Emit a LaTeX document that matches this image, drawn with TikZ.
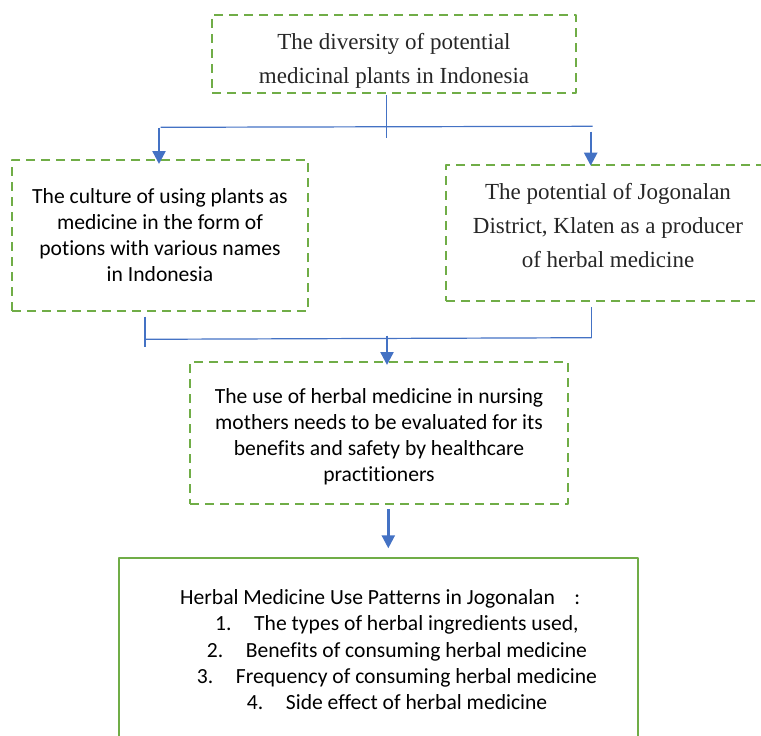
\documentclass[tikz,border=0pt]{standalone}
\usepackage{fontspec}
\setmainfont{Liberation Serif}
\setsansfont[Ligatures={NoCommon,NoContextual}]{Carlito}
\usetikzlibrary{arrows.meta}

\definecolor{boxgreen}{HTML}{70AD47}
\definecolor{linkblue}{HTML}{4472C4}
\newcommand\listno[1]{\makebox[39pt][l]{#1}}

\tikzset{
  dashbox/.style={draw=boxgreen,line width=2.3pt,dash pattern=on 9pt off 6pt,inner sep=0pt},
  solidbox/.style={draw=boxgreen,line width=2.3pt,inner sep=0pt},
  serif/.style={align=center,inner sep=0pt,text=black!85,font=\fontsize{23}{34}\selectfont},
  sans/.style={align=center,inner sep=0pt,font=\sffamily\fontsize{21.6}{26}\selectfont},
  link/.style={draw=linkblue,line width=1.2pt},
  flow/.style={draw=linkblue,line width=2.4pt,-{Triangle[width=13pt,length=13pt]}}
}

\begin{document}
\begin{tikzpicture}[x=1pt,y=-1pt,line join=round]
  \useasboundingbox (0,0) rectangle (761,736);
  \clip (0,0) rectangle (761,736);

  % Boxes
  \node[dashbox,minimum width=364,minimum height=78] (D) at (394,54) {};
  \node[dashbox,minimum width=296,minimum height=151] (C) at (160,235.5) {};
  \node[dashbox,minimum width=324,minimum height=136] (J) at (608,233) {};
  \node[dashbox,minimum width=378,minimum height=142] (U) at (379,433) {};
  \node[solidbox,minimum width=519,minimum height=202] (H) at (378.5,659) {};

  % Texts
  \node[serif] (Dt) at ([yshift=-6.5]D.center)
    {The diversity of potential\\medicinal plants in Indonesia};
  \node[sans] (Ct) at (C.center)
    {The culture of using plants as\\medicine in the form of\\potions with various names\\in Indonesia};
  \node[serif] (Jt) at ([yshift=7]J.center)
    {The potential of Jogonalan\\District, Klaten as a producer\\of herbal medicine};
  \node[sans] (Ut) at ([yshift=-4]U.center)
    {The use of herbal medicine in nursing\\mothers needs to be evaluated for its\\benefits and safety by healthcare\\practitioners};
  \node[sans,anchor=base west] (H0) at (180,604)
    {\makebox[400pt][l]{Herbal Medicine Use Patterns in Jogonalan\hfill:}};
  \node[sans,anchor=base west] (H1) at (215,630.5) {\listno{1.}The types of herbal ingredients used,};
  \node[sans,anchor=base west] (H2) at (206.7,657) {\listno{2.}Benefits of consuming herbal medicine};
  \node[sans,anchor=base west] (H3) at (196.7,683) {\listno{3.}Frequency of consuming herbal medicine};
  \node[sans,anchor=base west] (H4) at (246.7,709) {\listno{4.}Side effect of herbal medicine};

  % Upper connectors
  \coordinate (t1) at (386.5,95);
  \coordinate (t2) at (386.5,138);
  \coordinate (hl) at (160.5,127.3);
  \coordinate (hr) at (592.7,126.3);
  \coordinate (al) at (159,127.5);
  \coordinate (ar) at (590.7,131.7);
  \draw[link] (t1) -- (t2);
  \draw[link] (hl) -- (hr);
  \draw[flow] (al) -- (159,164);
  \draw[flow] (ar) -- (590.7,165.7);

  % Lower connectors
  \coordinate (l1) at (145,316.7);
  \coordinate (l2) at (145,346.7);
  \coordinate (r1) at (591.7,307.3);
  \coordinate (r2) at (591.7,337.7);
  \coordinate (m1) at (387,335.7);
  \draw[link] (l1) -- (l2);
  \draw[link] (145,339.3) -- (r2);
  \draw[link] (r1) -- (r2);
  \draw[flow] (m1) -- (387,365);

  % Last arrow
  \coordinate (u1) at (388.3,509.3);
  \draw[flow] (u1) -- (388.3,548.3);
\end{tikzpicture}
\end{document}
